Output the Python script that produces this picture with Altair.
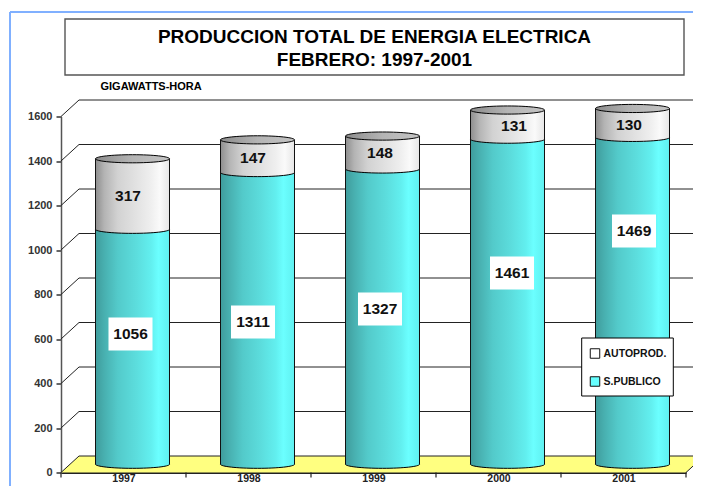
import altair as alt
import pandas as pd

YEARS = ["1997", "1998", "1999", "2000", "2001"]
S_PUBLICO = [1056, 1311, 1327, 1461, 1469]
AUTOPROD = [317, 147, 148, 131, 130]
Y_TICKS = [0, 200, 400, 600, 800, 1000, 1200, 1400, 1600]
SERIES = ["AUTOPROD.", "S.PUBLICO"]

# layout
FONT = "Liberation Sans"
X0, Y0, PLOT_W, PLOT_H = 61, 116.5, 625, 356
PX = 5 / PLOT_W            # data units per pixel, x
PY = 1600 / PLOT_H         # data units per pixel, y
DX, DY = 18 * PX, 16.5 * PY
HW = 37 * PX
ELLIPSE = "M-1,0 A1,0.11 0 1 0 1,0 A1,0.11 0 1 0 -1,0 Z"
ESIZE = 74 ** 2
LABEL_LOW = [(130.5, 334), (253, 322), (380, 309), (512, 273), (634, 231)]
LABEL_HIGH = [(128, 196), (253, 158), (380, 153), (514, 126), (629, 125)]


def grad(*pairs):
    return alt.LinearGradient(
        gradient="linear", x1=0, x2=1, y1=0, y2=0,
        stops=[alt.GradientStop(offset=o, color=c) for o, c in pairs],
    )


TEAL = grad((0, "#3f9c9c"), (0.12, "#48b0b0"), (0.3, "#53caca"), (0.55, "#5cdddd"),
            (0.75, "#62efef"), (0.85, "#6bffff"), (1, "#5ff0f0"))
GRAY = grad((0, "#8e8e8e"), (0.12, "#b4b4b4"), (0.3, "#d2d2d2"), (0.55, "#e2e2e2"),
            (0.75, "#efefef"), (0.87, "#fafafa"), (1, "#e6e6e6"))
TOP = grad((0, "#8c8c8c"), (0.5, "#b4b4b4"), (1, "#c4c4c4"))

xs = alt.Scale(domain=[0, 5], nice=False, zero=False)
ys = alt.Scale(domain=[0, 1600], nice=False, zero=False)

year_expr = "[" + ",".join(f"'{y}'" for y in YEARS) + "][floor(datum.value)]"
x_axis = alt.Axis(values=[0.5, 1.5, 2.5, 3.5, 4.5], labelExpr=year_expr, ticks=False,
                  grid=False, domainColor="#222222", domainWidth=2, labelFont=FONT,
                  labelFontSize=10.5, labelFontWeight="bold", labelColor="#222222",
                  labelPadding=1, labelAngle=0, title=None)
y_axis = alt.Axis(values=Y_TICKS, format="d", grid=False, domainColor="#555555", domainWidth=1.5,
                  tickColor="#333333", tickSize=5, tickWidth=1.5, labelFont=FONT,
                  labelFontSize=11, labelFontWeight="bold", labelColor="#333333",
                  labelPadding=4, title=None)


def X(f):
    return alt.X(f, type="quantitative", scale=xs, axis=x_axis)


def Y(f):
    return alt.Y(f, type="quantitative", scale=ys, axis=y_axis)


def vx(p):
    return alt.value(p - X0)


def vy(p):
    return alt.value(p - Y0)


rows = []
for i, year in enumerate(YEARS):
    cx = i + 0.5 + DX / 2
    low, high = S_PUBLICO[i], AUTOPROD[i]
    rows.append(dict(year=year, cx=cx, xl=cx - HW, xr=cx + HW, base=DY / 2,
                     v1=low + DY / 2, top=low + high + DY / 2,
                     low=str(low), high=str(high),
                     lx=(LABEL_LOW[i][0] - X0) * PX, ly=(Y0 + PLOT_H - LABEL_LOW[i][1]) * PY,
                     hx=(LABEL_HIGH[i][0] - X0) * PX, hy=(Y0 + PLOT_H - LABEL_HIGH[i][1]) * PY,
                     tick=i + 0.5, tick2=23))
cyl = pd.DataFrame(rows)

grid = pd.DataFrame({"v": Y_TICKS})
grid["x0"], grid["x1"], grid["x2"], grid["vb"] = 0.0, DX, 5 + DX, grid["v"] + DY

floor = pd.DataFrame({"x": [0, DX, 5, 5 + DX], "y": [0, 0, 0, DY], "y2": [0, DY, DY, DY]})
right_edge = pd.DataFrame({"x": [5.0], "x2": [5 + DX], "y": [0.0], "y2": [DY]})
ticks = pd.DataFrame({"x": [0, 1, 2, 3, 4, 5], "y": [0] * 6, "y2": [-23] * 6})

one = pd.DataFrame({"a": [0]})


def note(text, px, py, size, align="center"):
    return alt.Chart(pd.DataFrame({"t": [text]})).mark_text(
        font=FONT, fontSize=size, fontWeight="bold", color="#000000",
        align=align, baseline="middle",
    ).encode(x=vx(px), y=vy(py), text="t:N")


floor_layer = alt.Chart(floor).mark_area(color="#ffff80", opacity=1).encode(
    x=X("x"), y=Y("y"), y2=alt.Y2("y2"))
back_lines = alt.Chart(grid).mark_rule(color="#222222", strokeWidth=1).encode(
    x=X("x1"), x2=alt.X2("x2"), y=Y("vb"))
diagonals = alt.Chart(grid).mark_rule(color="#222222", strokeWidth=1).encode(
    x=X("x0"), x2=alt.X2("x1"), y=Y("v"), y2=alt.Y2("vb"))
right_line = alt.Chart(right_edge).mark_rule(color="#222222", strokeWidth=1).encode(
    x=X("x"), x2=alt.X2("x2"), y=Y("y"), y2=alt.Y2("y2"))
tick_rules = alt.Chart(ticks).mark_rule(color="#222222", strokeWidth=1.2).encode(
    x=X("x"), y=Y("y"), y2=alt.Y2("y2"))
mid_ticks = alt.Chart(cyl).mark_rule(color="#555555", strokeWidth=1).encode(
    x=X("tick"), y=Y("base"), y2=alt.Y2("tick2"))


def ellipse(field, fill):
    return alt.Chart(cyl).mark_point(
        shape=ELLIPSE, size=ESIZE, filled=True, fill=fill, stroke="#000000",
        strokeWidth=1, opacity=1,
    ).encode(x=X("cx"), y=Y(field))


def body(f1, f2, fill):
    return alt.Chart(cyl).mark_rect(fill=fill).encode(
        x=X("xl"), x2=alt.X2("xr"), y=Y(f1), y2=alt.Y2(f2))


def side(f):
    return alt.Chart(cyl).mark_rule(color="#111111", strokeWidth=1).encode(
        x=X(f), y=Y("base"), y2=alt.Y2("top"))


low_boxes = alt.Chart(cyl).mark_rect(fill="#ffffff", width=44, height=33).encode(
    x=X("lx"), y=Y("ly"))
low_text = alt.Chart(cyl).mark_text(font=FONT, fontSize=15.5, fontWeight="bold",
                                    color="#111111", baseline="middle").encode(
    x=X("lx"), y=Y("ly"), text="low:N")
high_text = alt.Chart(cyl).mark_text(font=FONT, fontSize=15.5, fontWeight="bold",
                                     color="#111111", baseline="middle").encode(
    x=X("hx"), y=Y("hy"), text="high:N")

title_box = alt.Chart(one).mark_rect(fill="#ffffff", stroke="#555555", strokeWidth=1.4).encode(
    x=vx(65), x2=vx(684), y=vy(19), y2=vy(75))
legend_box = alt.Chart(one).mark_rect(fill="#ffffff", stroke="#000000", strokeWidth=1).encode(
    x=vx(581.7), x2=vx(673.3), y=vy(338), y2=vy(396))
border_top = alt.Chart(one).mark_rule(color="#80b0ff", strokeWidth=2).encode(
    x=vx(10), x2=vx(701), y=vy(12))
border_left = alt.Chart(one).mark_rule(color="#80b0ff", strokeWidth=2).encode(
    x=vx(10), y=vy(12), y2=vy(495))

legend_layer = alt.Chart(pd.DataFrame({"s": SERIES, "x": [0.0, 0.0], "y": [0.0, 0.0]})).mark_point(
    size=0, filled=True, opacity=1, shape="square",
).encode(
    x=X("x"), y=Y("y"),
    color=alt.Color("s:N", scale=alt.Scale(domain=SERIES, range=["#ffffff", "#66ffff"]),
                    legend=alt.Legend(
                        orient="none", legendX=589.5 - X0, legendY=348 - Y0, title=None,
                        padding=0,
                        symbolType="square", symbolSize=90, symbolStrokeColor="#111111",
                        symbolStrokeWidth=1, symbolOpacity=1, rowPadding=13,
                        labelFont=FONT, labelFontSize=10.5, labelFontWeight="bold",
                        labelColor="#111111", labelOffset=3, labelLimit=90,
                    )),
)

chart = alt.layer(
    floor_layer, back_lines, diagonals, right_line, tick_rules, mid_ticks,
    ellipse("base", TEAL), body("base", "v1", TEAL),
    ellipse("v1", GRAY), body("v1", "top", GRAY),
    side("xl"), side("xr"), ellipse("top", TOP),
    low_boxes, low_text, high_text,
    border_top, border_left, title_box, legend_box,
    note("PRODUCCION TOTAL DE ENERGIA ELECTRICA", 374.5, 36.5, 19),
    note("FEBRERO: 1997-2001", 374.5, 59.5, 19),
    note("GIGAWATTS-HORA", 100.5, 87, 11, "left"),
    legend_layer,
).properties(
    width=PLOT_W, height=PLOT_H, background="#ffffff",
    padding={"left": X0 - 8, "top": Y0 - 8, "right": 7, "bottom": 13.5},
    autosize=alt.AutoSizeParams(type="none"),
).configure_view(stroke=None)

chart.save("out.html", embed_options={"renderer": "svg", "actions": False})
